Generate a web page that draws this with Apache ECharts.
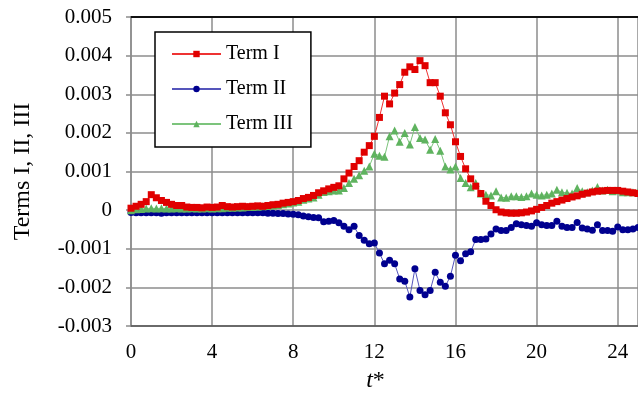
<!DOCTYPE html>
<html>
<head>
<meta charset="utf-8">
<script src="https://cdn.jsdelivr.net/npm/echarts@6/dist/echarts.min.js"></script>
<style>
  html, body { margin: 0; padding: 0; background: #fff; }
  #chart { width: 638px; height: 398px; }
</style>
</head>
<body>
<div id="chart"></div>
<script>
// Sampling of the dimensionless time t*
const T_STEP = 0.25;

// Series values in units of 1e-3 (one value per t* sample, t* = 0 ... 25)
const termI = [
  0.05, 0.10, 0.15, 0.22, 0.40, 0.32, 0.25, 0.20, 0.15, 0.12,
  0.12, 0.08, 0.07, 0.07, 0.06, 0.08, 0.07, 0.08, 0.12, 0.09,
  0.08, 0.09, 0.10, 0.09, 0.10, 0.11, 0.10, 0.12, 0.14, 0.15,
  0.18, 0.20, 0.22, 0.25, 0.30, 0.33, 0.38, 0.45, 0.50, 0.55,
  0.59, 0.63, 0.81, 0.96, 1.13, 1.28, 1.50, 1.67, 1.91, 2.40,
  2.95, 2.75, 3.03, 3.25, 3.57, 3.71, 3.64, 3.87, 3.74, 3.30,
  3.30, 2.95, 2.52, 2.21, 1.77, 1.39, 1.07, 0.81, 0.62, 0.43,
  0.23, 0.12, 0.01, -0.05, -0.07, -0.08, -0.08, -0.07, -0.05, -0.02,
  0.02, 0.07, 0.12, 0.18, 0.22, 0.26, 0.30, 0.34, 0.37, 0.41,
  0.44, 0.47, 0.49, 0.50, 0.51, 0.51, 0.51, 0.49, 0.47, 0.45,
  0.43
];

const termII = [
  -0.06, -0.07, -0.07, -0.07, -0.07, -0.07, -0.08, -0.07, -0.07, -0.07,
  -0.07, -0.07, -0.07, -0.07, -0.07, -0.07, -0.07, -0.07, -0.07, -0.07,
  -0.07, -0.07, -0.07, -0.07, -0.07, -0.07, -0.07, -0.08, -0.08, -0.09,
  -0.09, -0.10, -0.11, -0.12, -0.15, -0.17, -0.19, -0.20, -0.30, -0.29,
  -0.27, -0.33, -0.42, -0.51, -0.42, -0.66, -0.78, -0.87, -0.85, -1.11,
  -1.39, -1.30, -1.39, -1.78, -1.84, -2.25, -1.52, -2.08, -2.19, -2.08,
  -1.61, -1.87, -1.97, -1.71, -1.17, -1.31, -1.13, -1.08, -0.76, -0.76,
  -0.75, -0.62, -0.49, -0.53, -0.53, -0.45, -0.35, -0.38, -0.40, -0.42,
  -0.33, -0.38, -0.40, -0.40, -0.29, -0.42, -0.45, -0.45, -0.32, -0.46,
  -0.49, -0.52, -0.38, -0.53, -0.53, -0.55, -0.44, -0.51, -0.51, -0.49,
  -0.45
];

const termIII = [
  0.00, 0.02, 0.03, 0.04, 0.05, 0.04, 0.05, 0.04, 0.04, 0.05,
  0.04, 0.04, 0.05, 0.04, 0.04, 0.05, 0.04, 0.05, 0.05, 0.06,
  0.06, 0.07, 0.07, 0.08, 0.08, 0.09, 0.10, 0.11, 0.12, 0.13,
  0.15, 0.17, 0.20, 0.22, 0.27, 0.30, 0.33, 0.40, 0.47, 0.49,
  0.51, 0.51, 0.57, 0.70, 0.81, 0.90, 1.02, 1.13, 1.46, 1.41,
  1.38, 1.91, 2.06, 1.77, 2.00, 1.70, 2.15, 1.87, 1.83, 1.56,
  1.84, 1.54, 1.13, 1.05, 1.13, 0.83, 0.70, 0.59, 0.70, 0.43,
  0.40, 0.38, 0.49, 0.33, 0.32, 0.36, 0.36, 0.34, 0.36, 0.43,
  0.40, 0.38, 0.40, 0.43, 0.53, 0.46, 0.45, 0.43, 0.57, 0.49,
  0.46, 0.51, 0.60, 0.51, 0.53, 0.49, 0.51, 0.46, 0.46, 0.46,
  0.46
];

const VALUE_UNIT = 1e-3;
const seriesNames = ['Term I', 'Term II', 'Term III'];
const xTicks = { min: 0, max: 25, interval: 4 };
const yTicks = { min: -0.003, max: 0.005, interval: 0.001 };

const FONT = '"Liberation Serif", "Times New Roman", serif';

function toPairs(values) {
  return values.map((v, i) => [i * T_STEP, v * VALUE_UNIT]);
}

const chart = echarts.init(document.getElementById('chart'), null, { renderer: 'canvas' });

const gridColor = '#8c8c8c';

chart.setOption({
  animation: false,
  backgroundColor: '#ffffff',
  grid: { left: 131, top: 17, right: 0, bottom: 72, containLabel: false },
  legend: {
    orient: 'vertical',
    left: 155,
    top: 32,
    data: seriesNames,
    backgroundColor: '#ffffff',
    borderColor: '#000000',
    borderWidth: 1.5,
    borderRadius: 0,
    padding: [12, 18, 13, 16],
    itemGap: 15,
    itemWidth: 49,
    itemHeight: 8,
    textStyle: { fontFamily: FONT, fontSize: 20, color: '#000' }
  },
  xAxis: [
    {
      type: 'value',
      position: 'bottom',
      min: xTicks.min,
      max: xTicks.max,
      interval: xTicks.interval,
      name: '{i|t}*',
      nameLocation: 'middle',
      nameGap: 43,
      nameTextStyle: {
        fontFamily: FONT, fontSize: 24, color: '#000', padding: [0, 18, 0, 0],
        rich: { i: { fontFamily: FONT, fontSize: 24, fontStyle: 'italic', color: '#000' } }
      },
      axisLine: { show: true, onZero: false, lineStyle: { color: '#555', width: 1.5 } },
      axisTick: { show: false },
      axisLabel: {
        showMaxLabel: false,
        margin: 16,
        fontFamily: FONT, fontSize: 21, color: '#000'
      },
      splitLine: { show: true, lineStyle: { color: gridColor, width: 1.5 } }
    },
    {
      type: 'value',
      position: 'top',
      min: xTicks.min,
      max: xTicks.max,
      axisLine: { show: true, onZero: false, lineStyle: { color: '#111', width: 2 } },
      axisTick: { show: false },
      axisLabel: { show: false },
      splitLine: { show: false }
    }
  ],
  yAxis: {
    type: 'value',
    min: yTicks.min,
    max: yTicks.max,
    interval: yTicks.interval,
    name: 'Terms I, II, III',
    nameLocation: 'middle',
    nameGap: 96,
    nameTextStyle: { fontFamily: FONT, fontSize: 24, color: '#000' },
    axisLine: { show: true, onZero: false, lineStyle: { color: gridColor, width: 1.5 } },
    axisTick: { show: true, inside: false, length: 5, lineStyle: { color: gridColor, width: 1.5 } },
    axisLabel: {
      margin: 19,
      fontFamily: FONT, fontSize: 21, color: '#000',
      formatter: v => (Math.abs(v) < 1e-9 ? '0' : v.toFixed(3))
    },
    splitLine: { show: true, lineStyle: { color: gridColor, width: 1.5 } }
  },
  series: [
    {
      name: seriesNames[0],
      type: 'line',
      data: toPairs(termI),
      symbol: 'rect',
      symbolSize: 7,
      itemStyle: { color: '#e00000' },
      lineStyle: { color: '#ee3333', width: 1 },
      z: 4
    },
    {
      name: seriesNames[1],
      type: 'line',
      data: toPairs(termII),
      symbol: 'circle',
      symbolSize: 7,
      itemStyle: { color: '#00008f' },
      lineStyle: { color: '#5555bb', width: 1 },
      z: 2
    },
    {
      name: seriesNames[2],
      type: 'line',
      data: toPairs(termIII),
      symbol: 'triangle',
      symbolSize: 8,
      itemStyle: { color: '#5fb35f' },
      lineStyle: { color: '#7cc47c', width: 1 },
      z: 3
    }
  ]
});
</script>
</body>
</html>
